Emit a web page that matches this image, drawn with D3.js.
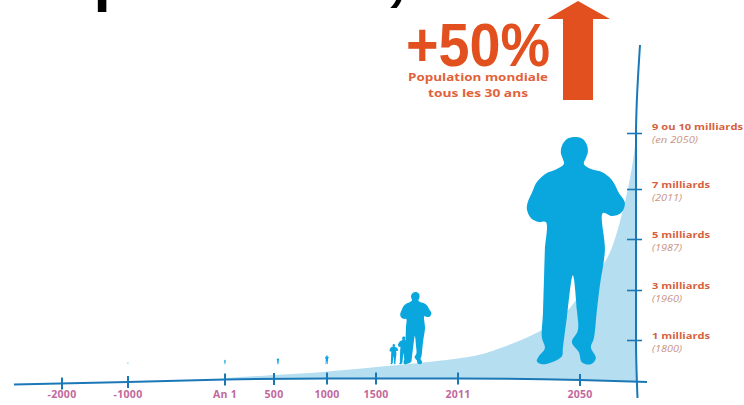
<!DOCTYPE html>
<html>
<head>
<meta charset="utf-8">
<script src="https://cdn.jsdelivr.net/npm/d3@7"></script>
<style>
html,body{margin:0;padding:0;background:#fff;overflow:hidden}
svg{display:block}
</style>
</head>
<body>
<svg id="c" width="744" height="405"></svg>
<script>
// ---- data ----
const xTickYears = [-2000,-1000,1,500,1000,1500,2011,2050];
const xTickLabels = ["-2000","-1000","An 1","500","1000","1500","2011","2050"];
const yTickValues = [1,3,5,7,9.5];
const yTickLabels = ["1 milliards","3 milliards","5 milliards","7 milliards","9 ou 10 milliards"];
const yTickDates = ["(1800)","(1960)","(1987)","(2011)","(en 2050)"];
const curveYears = [1,500,1000,1500,1650,2011,2018,2024,2038,2046,2048,2070,2078,2085,2094,2098,2099];
const curveValues = [0.07,0.15,0.22,0.34,0.39,0.54,0.63,0.78,1.32,2.12,2.5,3.9,4.6,5.65,7.4,8.8,9.5];
const figureYears = [-1000,1,538,1000,1612,1675,1750,2049];
const figureHeads = [0.46,0.52,0.56,0.63,0.9,1.14,2.92,9.32];

const W = 744, H = 405;
const svg = d3.select("#c");
const FONT = "'Open Sans','DejaVu Sans',sans-serif";
const C = {area:"#b5deF1", man:"#0aa6de", axis:"#1b78b6", orange:"#e2501f", label:"#d65f3e", date:"#c99486", pink:"#c2689c"};

// Scales. The time axis of the original is deliberately not linear.
const x = d3.scaleLinear()
  .domain([-2000,-1000,1,500,1000,1500,2011,2050,2099])
  .range([62,128,225,274,327,376,458,580,636]);
const y = d3.scaleLinear().domain([0,1,3,5,7,9.5]).range([381,340,290,239,189,133]);
// the hand-drawn x axis is a little tilted: baseline height along x
const base = d3.scaleLinear().domain([14,128,225,327,458,580,647]).range([384.5,382,379.5,378.5,378.5,380,382]);

// clipped title fragments at the very top
svg.append("text").attr("x",93.5).attr("y",-1).attr("font-family","Liberation Sans").attr("font-weight",700)
  .attr("font-size",62).attr("fill","#000").text("p");
svg.append("text").attr("x",391).attr("y",-3).attr("font-family","Liberation Sans").attr("font-weight",700).attr("font-style","italic")
  .attr("font-size",70).attr("fill","#000").text(",");

// population area
const curve = curveYears.map((t,i)=>({t,v:curveValues[i]}));
svg.append("path").datum(curve)
  .attr("fill",C.area)
  .attr("d",d3.area().x(d=>x(d.t)).y0(d=>base(x(d.t))).y1(d=>y(d.v)).curve(d3.curveBasis));

// silhouette outline, drawn once and placed by scale
const outline = [[577.5,137],[568,139],[563,146],[562,153],[564,159],[565,164],[556,170],[548,173],[538,182],[533,193],[529,202],[528,209],[532,218],[540,222],[547,222],[546,250],[545,283],[544,315],[543,337],[546,348],[540,356],[538,361],[543,364],[553,362],[563,356],[564,348],[568,317],[574,275],[578,310],[579,330],[573,342],[580,352],[583,362],[592,364],[597,358],[592,347],[595,338],[598,310],[601,285],[606,250],[604,213],[613,216],[622,213],[626,203],[620,193],[613,180],[603,172],[592,169],[585,164],[587,158],[589,152],[588,145],[584,139]];
const manPath = d3.line().curve(d3.curveCatmullRomClosed.alpha(0.5))(outline);
const footV = 0.41;
figureYears.forEach((t,i)=>{
  const foot = y(footV), top = y(figureHeads[i]);
  const s = (foot-top)/227;
  svg.append("path").attr("d",manPath).attr("fill",C.man)
    .attr("transform",`translate(${x(t)},${foot}) scale(${s}) translate(-578,-364)`);
});

// x axis
const axisLine = base.domain();
svg.append("path").datum(axisLine)
  .attr("fill","none").attr("stroke",C.axis).attr("stroke-width",2)
  .attr("d",d3.line().x(d=>d).y(d=>base(d)).curve(d3.curveMonotoneX));
const gx = svg.append("g").call(d3.axisBottom(x).tickValues(xTickYears)
  .tickFormat((d,i)=>xTickLabels[i]).tickSize(6));
gx.select(".domain").remove();
gx.selectAll(".tick").attr("transform",d=>`translate(${x(d)},${base(x(d))})`);
gx.selectAll(".tick line").attr("y1",-6).attr("y2",6).attr("stroke",C.axis).attr("stroke-width",2);
gx.selectAll(".tick text")
  .attr("y",d=>398-base(x(d))).attr("dy",0)
  .attr("font-family",FONT).attr("font-weight",700).attr("font-size",10.5)
  .attr("letter-spacing",0.3).attr("fill",C.pink);

// y axis
const yAxisX = d3.scaleLinear().domain([45,110,133,340,398]).range([640,636.5,636,636,637.5]);
svg.append("path").datum(yAxisX.domain())
  .attr("fill","none").attr("stroke",C.axis).attr("stroke-width",2)
  .attr("d",d3.line().x(d=>yAxisX(d)).y(d=>d).curve(d3.curveMonotoneY));
const gy = svg.append("g").attr("transform","translate(636,0)")
  .call(d3.axisRight(y).tickValues(yTickValues).tickFormat("").tickSize(6));
gy.select(".domain").remove();
gy.selectAll(".tick line").attr("x1",-9).attr("x2",6).attr("stroke",C.axis).attr("stroke-width",1.6);
const ticks = gy.selectAll(".tick");
ticks.select("text").remove();
const labelW = [58,58,58,58,91], dateW = [30,30,30,30,46];
ticks.append("text").attr("x",16).attr("y",d=>d===9.5?-4:-2)
  .attr("font-family",FONT).attr("font-weight",700).attr("font-size",9.5).attr("fill",C.label)
  .attr("textLength",(d,i)=>labelW[i]).attr("lengthAdjust","spacingAndGlyphs")
  .text((d,i)=>yTickLabels[i]);
ticks.append("text").attr("x",16).attr("y",d=>d===9.5?9:11)
  .attr("font-family",FONT).attr("font-style","italic").attr("font-size",9.5).attr("fill",C.date)
  .attr("textLength",(d,i)=>dateW[i]).attr("lengthAdjust","spacingAndGlyphs")
  .text((d,i)=>yTickDates[i]);

// annotation
const arrow = [[578,1],[610,19],[593,19],[593,100],[563,100],[563,19],[547,19]];
svg.append("path").attr("fill",C.orange).attr("d",d3.line()(arrow)+"Z");
svg.append("text").attr("x",406).attr("y",66)
  .attr("font-family","'Liberation Sans Narrow','Liberation Sans'").attr("font-weight",700)
  .attr("font-size",62).attr("fill",C.orange)
  .attr("textLength",144).attr("lengthAdjust","spacingAndGlyphs").text("+50%");
svg.append("text").attr("x",408).attr("y",81)
  .attr("font-family",FONT).attr("font-weight",700).attr("font-size",11).attr("fill","#e0623a")
  .attr("textLength",140).attr("lengthAdjust","spacingAndGlyphs").text("Population mondiale");
svg.append("text").attr("x",428).attr("y",97)
  .attr("font-family",FONT).attr("font-weight",700).attr("font-size",11).attr("fill","#e0623a")
  .attr("textLength",100).attr("lengthAdjust","spacingAndGlyphs").text("tous les 30 ans");
</script>
</body>
</html>
